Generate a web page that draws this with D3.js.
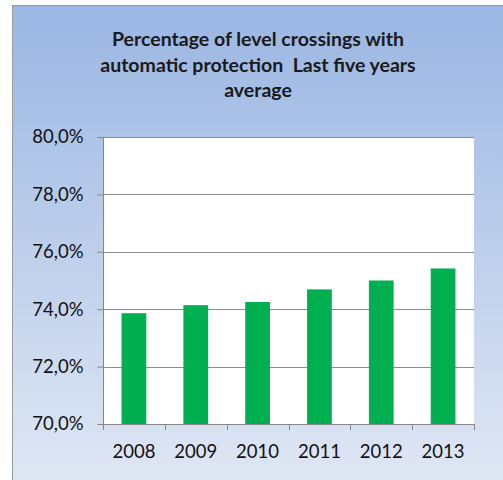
<!DOCTYPE html>
<html><head><meta charset="utf-8">
<script src="https://cdn.jsdelivr.net/npm/d3@7"></script>
<style>body{margin:0;background:#fff}svg{display:block}</style>
</head><body>
<svg id="c" width="503" height="480"></svg>
<script>
const categories = ["2008","2009","2010","2011","2012","2013"];
const values = [73.86, 74.14, 74.25, 74.69, 75.0, 75.42];
const yTicks = [70, 72, 74, 76, 78, 80];
const titleLines = ["Percentage of level crossings with", "automatic protection  Last five years", "average"];

(function(){
const svg = d3.select("#c");
const defs = svg.append("defs");
const g = defs.append("linearGradient").attr("id","bg").attr("x1",0).attr("y1",0).attr("x2",0).attr("y2",1);
g.append("stop").attr("offset","0%").attr("stop-color","#9ab6e3");
g.append("stop").attr("offset","100%").attr("stop-color","#e0e7f4");

svg.append("rect").attr("x",12.5).attr("y",5.5).attr("width",500).attr("height",480)
  .attr("fill","url(#bg)").attr("stroke","#9a9a9a").attr("stroke-width",1);

const font = "Lato, 'Open Sans', sans-serif";
svg.append("g").selectAll("text").data(titleLines).join("text")
  .attr("x",258).attr("y",(d,i)=>46+i*25.5)
  .attr("text-anchor","middle").attr("font-family",font).attr("font-weight","bold")
  .attr("font-size",19.5).attr("fill","#1a1a1a").attr("xml:space","preserve").style("white-space","pre").text(d=>d);

const pL=103, pR=474, pT=137, pB=424;
const x = d3.scaleBand().domain(categories).range([pL,pR]).paddingInner(0.6).paddingOuter(0.3);
const y = d3.scaleLinear().domain([70,80]).range([pB,pT]);

svg.append("rect").attr("x",pL).attr("y",pT).attr("width",pR-pL).attr("height",pB-pT).attr("fill","#fff");

svg.append("g").selectAll("line").data(yTicks).join("line")
  .attr("x1",pL).attr("x2",pR).attr("y1",d=>Math.round(y(d))+0.5).attr("y2",d=>Math.round(y(d))+0.5)
  .attr("stroke","#8c8c8c").attr("stroke-width",1);

svg.append("g").selectAll("rect").data(values).join("rect")
  .attr("x",(d,i)=>x(categories[i])).attr("width",x.bandwidth())
  .attr("y",d=>y(d)).attr("height",d=>pB-y(d)).attr("fill","#00b050");

const yAxis = d3.axisLeft(y).tickValues(yTicks).tickSize(6).tickPadding(14)
  .tickFormat(d=>d3.format(".1f")(d).replace(".",",")+"%");
const ya = svg.append("g").attr("transform",`translate(${pL+0.5},0)`).call(yAxis);
ya.selectAll("text").attr("font-family",font).attr("font-size",18.5).attr("fill","#111");
ya.selectAll("line,path").attr("stroke","#868686");
ya.select(".domain").attr("d",`M0,${pT}V${pB}`);

const xa = svg.append("g");
xa.append("line").attr("x1",pL).attr("x2",pR).attr("y1",pB+0.5).attr("y2",pB+0.5).attr("stroke","#868686");
const bounds = d3.range(categories.length+1).map(i=>pL + i*(pR-pL)/categories.length);
xa.selectAll("line.t").data(bounds).join("line").attr("class","t")
  .attr("x1",d=>Math.round(d)+0.5).attr("x2",d=>Math.round(d)+0.5).attr("y1",pB).attr("y2",pB+6).attr("stroke","#868686");
xa.selectAll("text").data(categories).join("text")
  .attr("x",d=>x(d)+x.bandwidth()/2).attr("y",458)
  .attr("text-anchor","middle").attr("font-family",font).attr("font-size",18.5).attr("fill","#111").text(d=>d);
})();
</script>
</body></html>
